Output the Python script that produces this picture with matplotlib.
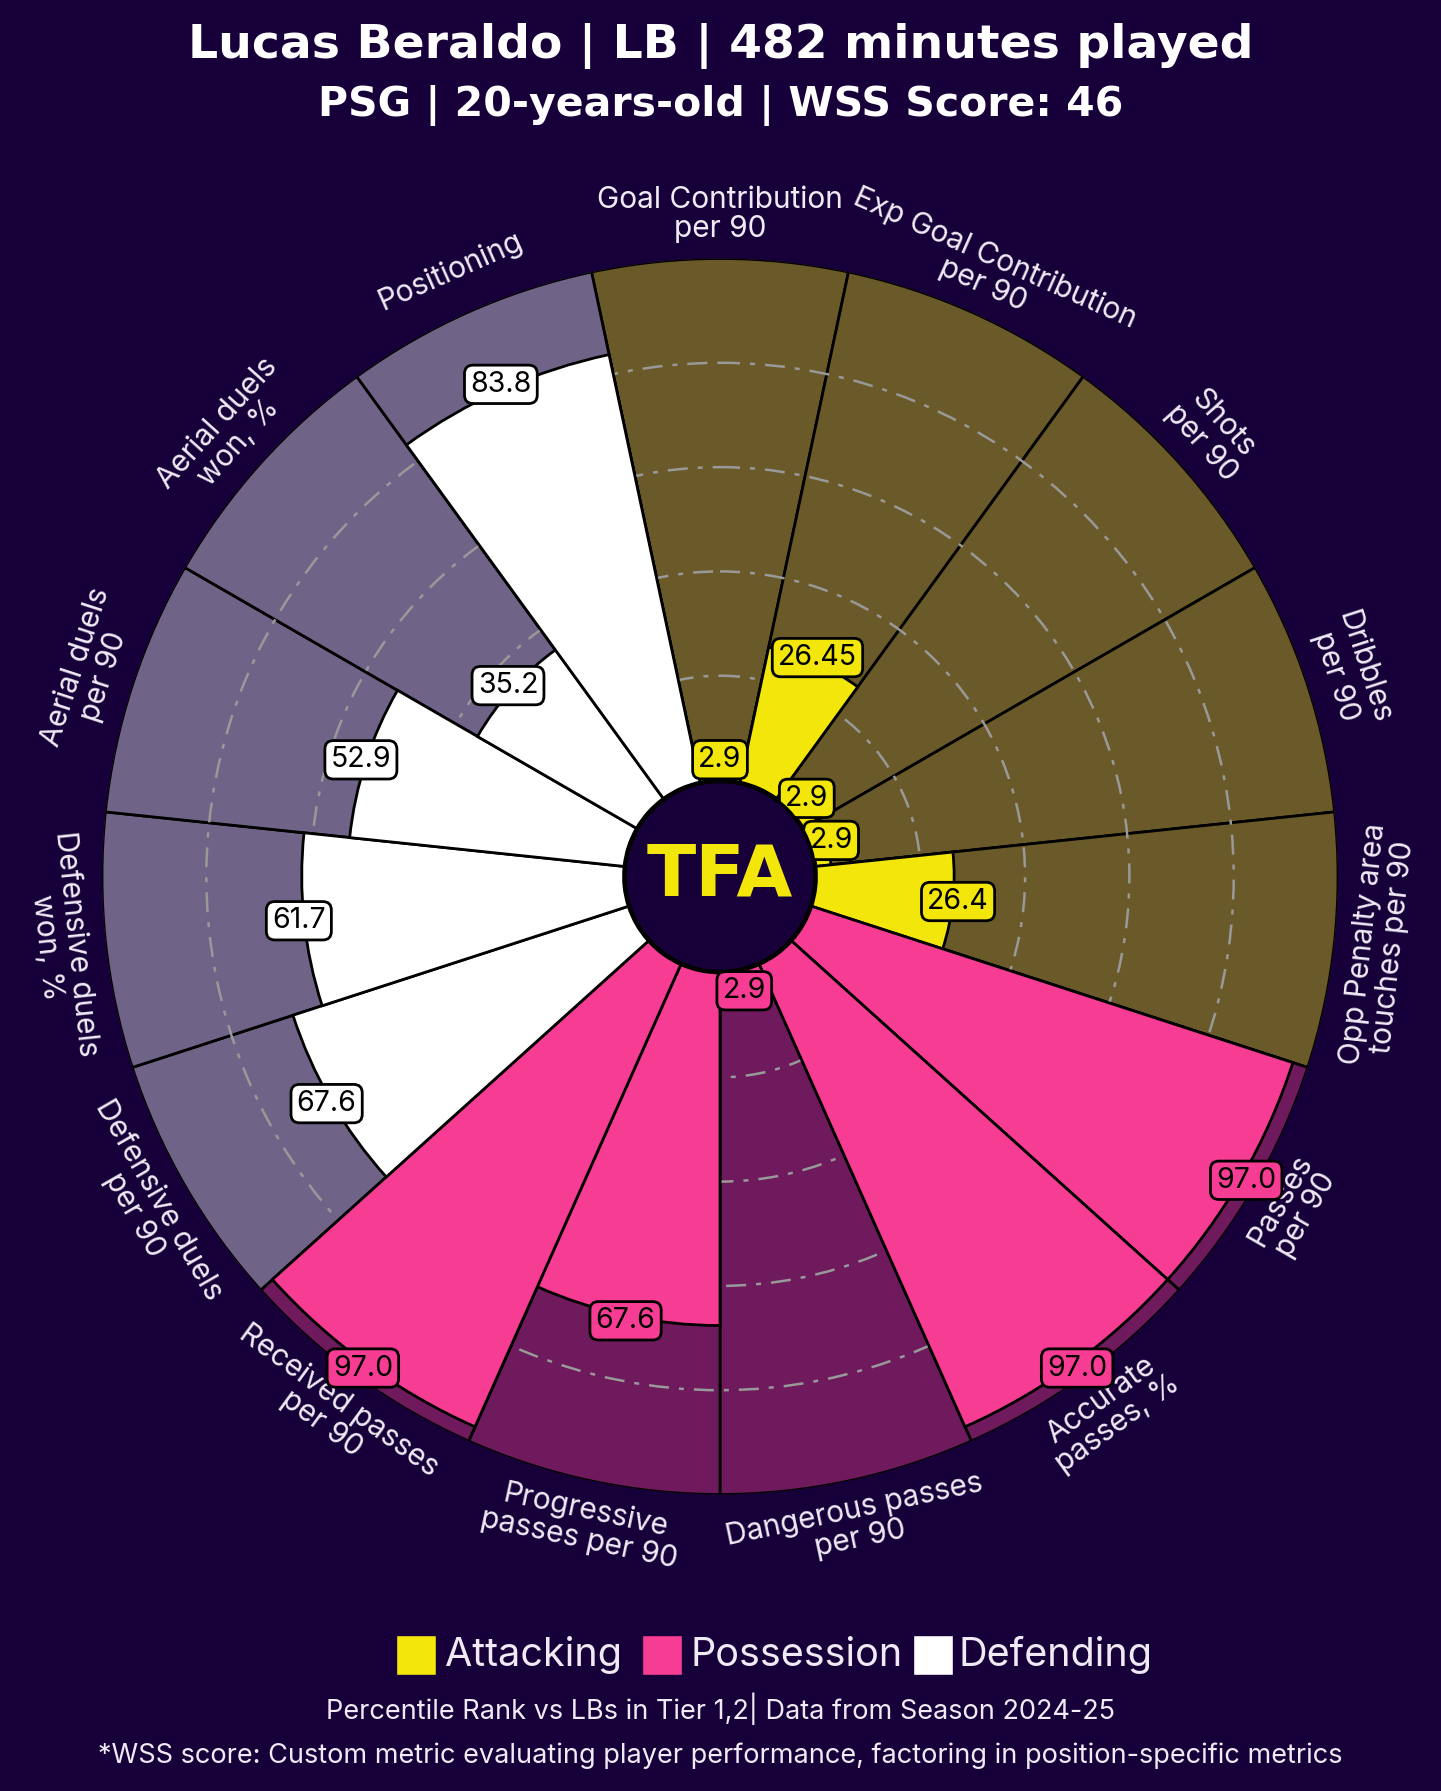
import numpy as np
import matplotlib
matplotlib.use("Agg")
import matplotlib.pyplot as plt
from matplotlib.patches import Circle, Rectangle

# ---------------- data ----------------
params = ["Goal Contribution\nper 90", "Exp Goal Contribution\nper 90", "Shots\nper 90",
          "Dribbles\nper 90", "Opp Penalty area\ntouches per 90", "Passes\nper 90",
          "Accurate\npasses, %", "Dangerous passes\nper 90", "Progressive\npasses per 90",
          "Received passes\nper 90", "Defensive duels\nper 90", "Defensive duels\nwon, %",
          "Aerial duels\nper 90", "Aerial duels\nwon, %", "Positioning"]
values = [2.9, 26.45, 2.9, 2.9, 26.4, 97.0, 97.0, 2.9, 67.6, 97.0, 67.6, 61.7, 52.9, 35.2, 83.8]
categories = ["Attacking"] * 5 + ["Possession"] * 5 + ["Defending"] * 5
legend_labels = ["Attacking", "Possession", "Defending"]
grid_levels = [20, 40, 60, 80]

title = "Lucas Beraldo | LB | 482 minutes played"
subtitle = "PSG | 20-years-old | WSS Score: 46"
footer1 = "Percentile Rank vs LBs in Tier 1,2| Data from Season 2024-25"
footer2 = "*WSS score: Custom metric evaluating player performance, factoring in position-specific metrics"

# ---------------- style ----------------
BG = "#17003A"
FG = {"Attacking": "#F2E60A", "Possession": "#F73D93", "Defending": "#FFFFFF"}
SLICE_BG = {"Attacking": "#6B5A29", "Possession": "#6E1A5C", "Defending": "#6F6487"}
TXT = "#F0EAF5"
FONT = ["Inter", "DejaVu Sans"]

W, H = 1441, 1791
fig = plt.figure(figsize=(W / 100, H / 100), dpi=100)
fig.patch.set_facecolor(BG)

cx, cy, R = 720, 876.5, 618
ax = fig.add_axes([(cx - R) / W, (H - cy - R) / H, 2 * R / W, 2 * R / H], projection="polar")
ax.set_facecolor(BG)
ax.set_theta_offset(np.pi / 2)
ax.set_theta_direction(-1)
ax.set_ylim(-18.5, 100)

n = len(params)
width = 2 * np.pi / n
theta = np.arange(n) * width

bg_cols = [SLICE_BG[c] for c in categories]
fg_cols = [FG[c] for c in categories]

ax.bar(theta, [100] * n, width=width, bottom=0, color=bg_cols, edgecolor="black",
       linewidth=2, zorder=1)
ax.bar(theta, values, width=width, bottom=0, color=fg_cols, edgecolor="black",
       linewidth=2, zorder=2)

# grid
ax.set_rticks(grid_levels)
ax.set_yticklabels([])
ax.set_xticks([])
ax.yaxis.grid(True, color="#999999", linestyle="-.", linewidth=1.8, dashes=(8, 4, 2, 4))
ax.xaxis.grid(False)
ax.set_axisbelow("line")
ax.spines["polar"].set_visible(False)

# value labels
for t, v, c in zip(theta, values, fg_cols):
    ax.text(t, v + 1, str(v), ha="center", va="center", fontsize=20.5, color="black",
            family=FONT, zorder=6,
            bbox=dict(boxstyle="round,pad=0.2,rounding_size=0.3", fc=c, ec="black", lw=2))

# parameter labels
for i, (t, p) in enumerate(zip(theta, params)):
    a = (90 - np.degrees(t)) % 360
    if a > 180:
        a -= 360
    rot = a - 90 if 0 < a <= 180 else a + 90
    ax.text(t, 108.5, p, ha="center", va="center", rotation=rot, rotation_mode="anchor",
            fontsize=21.5, color=TXT, family=FONT, linespacing=1.05, multialignment="center")

# center logo
ax.add_patch(Circle((0.5, 0.5), 95 / (2 * R), transform=ax.transAxes, fc=BG, ec="black",
                    lw=2.5, zorder=7))
ax.text(0.5, 0.5, "TFA", transform=ax.transAxes, ha="center", va="center",
        fontsize=52, fontweight="bold", color="#F2E60A", family="DejaVu Sans", zorder=8)

# titles
fig.text(0.5, 1 - 46 / H, title, ha="center", va="center", fontsize=34, fontweight="bold",
         color="white", family="DejaVu Sans")
fig.text(0.5, 1 - 105 / H, subtitle, ha="center", va="center", fontsize=29.5, fontweight="bold",
         color="white", family="DejaVu Sans")

# legend
sq_x = [396, 642, 913]
txt_x = [445, 691, 959]
ly = 1655
for lab, sx, tx in zip(legend_labels, sq_x, txt_x):
    fig.patches.append(Rectangle((sx / W, 1 - (ly + 20) / H), 40 / W, 40 / H,
                                 transform=fig.transFigure, fc=FG[lab], ec=BG, lw=1))
    fig.text(tx / W, 1 - ly / H, lab, ha="left", va="center", fontsize=28.5, color=TXT,
             family=FONT)

fig.text(0.5, 1 - 1709 / H, footer1, ha="center", va="center", fontsize=19.5, color=TXT,
         family=FONT)
fig.text(0.5, 1 - 1756 / H, footer2, ha="center", va="center", fontsize=19.5, color=TXT,
         family=FONT)

fig.savefig("out.png", dpi=100, facecolor=BG)
